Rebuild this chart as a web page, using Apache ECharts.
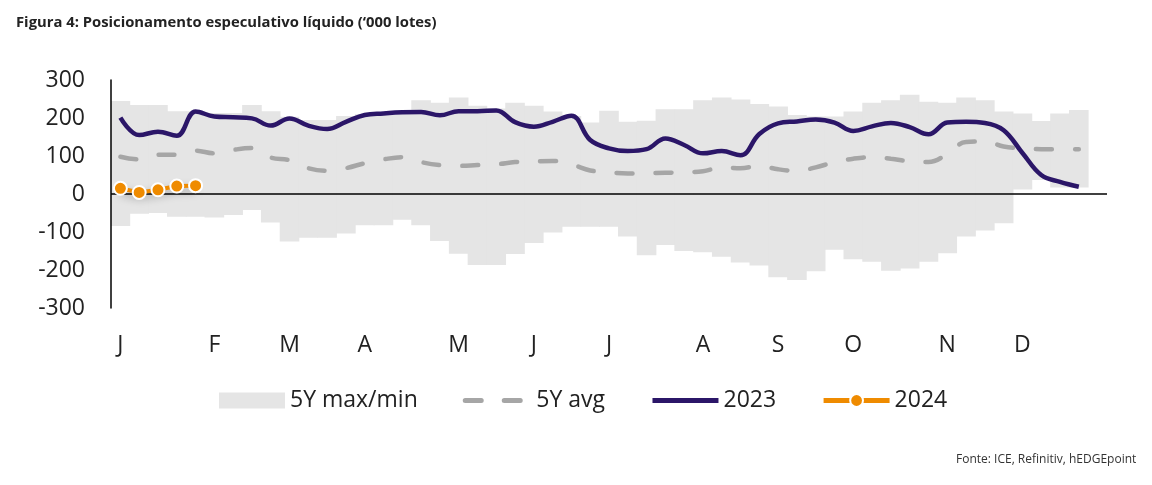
<!DOCTYPE html>
<html>
<head>
<meta charset="utf-8">
<script src="https://cdn.jsdelivr.net/npm/echarts@6/dist/echarts.min.js"></script>
<style>
  html, body { margin: 0; padding: 0; background: #fff; }
  #chart { width: 1152px; height: 485px; }
</style>
</head>
<body>
<div id="chart"></div>
<script>
// semanas do ano (53 slots, o ultimo fica vazio)
let weeks = []
for (let i = 1; i <= 53; i++) weeks.push(i)

let monthLabels = ['J', 'F', 'M', 'A', 'M', 'J', 'J', 'A', 'S', 'O', 'N', 'D']
let monthWeeks = [0, 5, 9, 13, 18, 22, 26, 31, 35, 39, 44, 48]

// 5Y max / min
let max5y = [245, 234, 234, 218, 218, 213, 213, 234, 218, 203,
  195, 195, 205, 210, 212, 215, 247, 240, 254, 232,
  225, 240, 232, 217, 205, 188, 219, 190, 193, 223,
  223, 247, 254, 249, 237, 230, 208, 204, 204, 217,
  240, 247, 261, 243, 240, 254, 247, 217, 212, 192,
  212, 221]
let min5y = [-84, -52, -50, -60, -60, -62, -55, -42, -75, -125,
  -115, -115, -104, -82, -82, -68, -82, -124, -157, -187,
  -187, -158, -129, -101, -86, -86, -86, -112, -161, -134,
  -150, -153, -165, -180, -188, -219, -226, -203, -147, -172,
  -178, -202, -196, -178, -156, -112, -96, -77, 12, 37,
  17, 17]

let avg5y = [98, 91, 103, 103, 114, 107, 116, 121, 96, 89,
  68, 61, 68, 81, 91, 97, 84, 76, 74, 76,
  78, 84, 86, 87, 78, 62, 57, 54, 55, 56,
  57, 60, 70, 68, 74, 65, 61, 70, 84, 93,
  97, 93, 86, 84, 105, 137, 138, 125, 120, 118,
  118, 118]

let y2023 = [201, 155, 164, 153, 217, 204, 202, 199, 180, 199,
  180, 171, 190, 208, 212, 215, 216, 207, 218, 218,
  220, 189, 177, 190, 206, 142, 120, 113, 118, 146,
  129, 107, 113, 102, 158, 186, 191, 196, 188, 166,
  178, 187, 176, 157, 188, 190, 187, 168, 108, 50,
  32, 19]

let y2024 = [15, 4, 11, 21, 22]

let fontName = 'Open Sans'
let gray = '#e5e5e5'
let avgColor = '#a6a6a6'
let navy = '#2b1668'
let orange = '#ef8b00'

let chart = echarts.init(document.getElementById('chart'))
let option = {
  animation: false,
  title: [
    {
      text: 'Figura 4: Posicionamento especulativo líquido (‘000 lotes)',
      left: 11,
      top: 10,
      textStyle: {
        fontFamily: fontName,
        fontSize: 14.8,
        fontWeight: 'bold',
        color: '#222'
      }
    },
    {
      text: 'Fonte: ICE, Refinitiv, hEDGEpoint',
      left: 951,
      top: 449,
      textStyle: {
        fontFamily: fontName,
        fontSize: 12,
        fontWeight: 'normal',
        color: '#333'
      }
    }
  ],
  legend: {
    data: [
      {name: '5Y max/min', icon: 'rect'},
      {name: '5Y avg', itemStyle: {opacity: 0}, lineStyle: {width: 5}},
      {name: '2023', itemStyle: {opacity: 0}, lineStyle: {width: 5}},
      {name: '2024', lineStyle: {width: 5}}
    ],
    left: 214,
    top: 384,
    itemGap: 45,
    itemWidth: 66,
    itemHeight: 16,
    textStyle: {
      fontFamily: fontName,
      fontSize: 23,
      color: '#222'
    }
  },
  grid: {
    left: 111,
    right: 45,
    top: 80,
    bottom: 177
  },
  xAxis: {
    type: 'category',
    data: weeks,
    boundaryGap: true,
    axisLine: { show: false, onZero: false },
    axisTick: { show: false },
    axisLabel: {
      interval: 0,
      margin: 26,
      fontFamily: fontName,
      fontSize: 23,
      color: '#222',
      formatter: function (v, idx) {
        let k = monthWeeks.indexOf(idx)
        return k >= 0 ? monthLabels[k] : ''
      }
    },
    splitLine: { show: false }
  },
  yAxis: {
    type: 'value',
    min: -300,
    max: 300,
    interval: 100,
    z: 3,
    axisLine: {
      show: true,
      lineStyle: { color: '#000', width: 1.5 }
    },
    axisTick: { show: false },
    axisLabel: {
      margin: 26,
      fontFamily: fontName,
      fontSize: 23,
      color: '#222'
    },
    splitLine: { show: false }
  },
  series: [
    {
      name: 'base',
      type: 'bar',
      stack: 'range',
      stackStrategy: 'all',
      barWidth: 19.6,
      itemStyle: { color: 'rgba(0,0,0,0)' },
      z: 1,
      data: min5y
    },
    {
      name: '5Y max/min',
      type: 'bar',
      stack: 'range',
      stackStrategy: 'all',
      barWidth: 19.6,
      itemStyle: { color: gray },
      z: 1,
      data: max5y.map(function (v, i) { return v - min5y[i] })
    },
    {
      name: '5Y avg',
      type: 'line',
      smooth: 0.4,
      symbol: 'none',
      z: 3,
      lineStyle: {
        color: avgColor,
        width: 4.5,
        type: [16, 23],
        cap: 'round'
      },
      itemStyle: { color: avgColor },
      markLine: {
        silent: true,
        symbol: 'none',
        label: { show: false },
        lineStyle: { color: '#000', width: 1.5, type: 'solid' },
        data: [{ yAxis: 0 }]
      },
      data: avg5y
    },
    {
      name: '2023',
      type: 'line',
      smooth: 0.4,
      symbol: 'none',
      z: 4,
      lineStyle: { color: navy, width: 4.5 },
      itemStyle: { color: navy },
      data: y2023
    },
    {
      name: '2024',
      type: 'line',
      symbol: 'circle',
      symbolSize: 13,
      z: 5,
      lineStyle: {
        color: orange,
        width: 4,
        shadowBlur: 8,
        shadowColor: 'rgba(0,0,0,0.35)',
        shadowOffsetY: 4
      },
      itemStyle: {
        color: orange,
        borderColor: '#fff',
        borderWidth: 2
      },
      data: y2024
    }
  ]
}
chart.setOption(option)
</script>
</body>
</html>
